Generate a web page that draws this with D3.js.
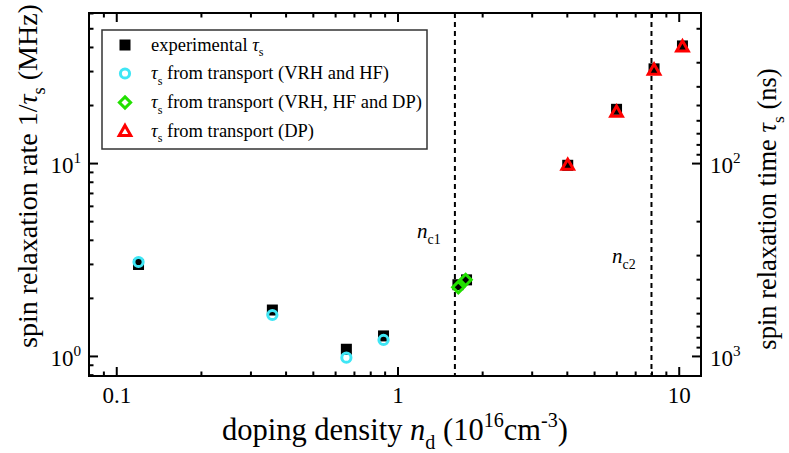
<!DOCTYPE html>
<html>
<head>
<meta charset="utf-8">
<script src="https://cdn.jsdelivr.net/npm/d3@7"></script>
<style>
  html, body { margin: 0; padding: 0; background: #fff; }
  svg { display: block; font-family: "Liberation Serif", "Times New Roman", serif; }
</style>
</head>
<body>
<svg id="chart" width="789" height="453"></svg>
<script>
// Doping density (10^16 cm^-3) and spin relaxation rate 1/tau_s (MHz)
const expDensity   = [0.12, 0.359, 0.658, 0.892, 1.64, 1.76, 4.03, 6.01, 8.17, 10.31];
const expRate      = [2.98, 1.73, 1.083, 1.27, 2.34, 2.48, 9.74, 19.0, 30.8, 40.5];

const vrhDensity   = [0.12, 0.359, 0.658, 0.892];
const vrhRate      = [3.07, 1.63, 0.98, 1.21];

const dpMixDensity = [1.645, 1.747];
const dpMixRate    = [2.27, 2.48];

const dpDensity    = [4.03, 6.01, 8.17, 10.31];
const dpRate       = [9.8, 18.5, 30.5, 40.3];

// Critical densities
const criticalDensity = [1.6, 8.0];
const criticalLabels  = ["c1", "c2"];

// Axis ranges and ticks
const xDomain = [0.08, 12];
const yDomain = [0.787, 60];
const xMajor = [0.1, 1, 10];
const xMajorLabels = ["0.1", "1", "10"];
const xMinor = [0.09, 0.2, 0.3, 0.4, 0.5, 0.6, 0.7, 0.8, 0.9, 2, 3, 4, 5, 6, 7, 8, 9];
const yMajor = [1, 10];
const yMajorExp = ["0", "1"];
const yMinor = [0.8, 0.9, 2, 3, 4, 5, 6, 7, 8, 9, 20, 30, 40, 50, 60];
const tauMajor = [100, 1000];
const tauMajorExp = ["2", "3"];
const tauMinor = [20, 30, 40, 50, 60, 70, 80, 90, 200, 300, 400, 500, 600, 700, 800, 900];

const colors = { exp: "#000000", vrh: "#3fe6f5", mix: "#22e000", dp: "#ff0000" };

const svg = d3.select("#chart");
const plot = { left: 89, right: 701, top: 13, bottom: 376 };

const x = d3.scaleLog().domain(xDomain).range([plot.left, plot.right]);
const y = d3.scaleLog().domain(yDomain).range([plot.bottom, plot.top]);
const yTau = d3.scaleLog().domain([1000 / yDomain[0], 1000 / yDomain[1]]).range([plot.bottom, plot.top]);

// Append text built from segments: {t, it, sub, sup}
function richText(sel, segs, baseSize) {
  let shift = 0;
  segs.forEach(s => {
    const ts = sel.append("tspan").text(s.t);
    if (s.it) ts.attr("font-style", "italic");
    let target = 0;
    if (s.sub) target = 0.3 * baseSize;
    if (s.sup) target = -0.42 * baseSize;
    if (s.sub || s.sup) ts.attr("font-size", (baseSize * 0.66) + "px");
    const dy = target - shift;
    if (dy !== 0) ts.attr("dy", dy);
    shift = target;
  });
  return sel;
}

// Critical density markers
const crit = svg.append("g");
criticalDensity.forEach((d, i) => {
  crit.append("line")
    .attr("x1", x(d)).attr("x2", x(d))
    .attr("y1", plot.top).attr("y2", plot.bottom)
    .attr("stroke", "#000").attr("stroke-width", 2)
    .attr("stroke-dasharray", "5,4");
});
const critLabelPos = [[417, 238], [612, 263]];
criticalLabels.forEach((lab, i) => {
  const t = crit.append("text")
    .attr("x", critLabelPos[i][0]).attr("y", critLabelPos[i][1])
    .attr("font-size", 21);
  richText(t, [{ t: "n", it: true }, { t: lab, sub: true }], 21);
});

// Axes
function styleAxis(g) {
  g.select(".domain").remove();
  g.selectAll(".tick line").attr("stroke", "#000").attr("stroke-width", 2);
}
const majorLen = 9, minorLen = 4.5;
const tickFont = 23;

// bottom
svg.append("g").attr("transform", `translate(0,${plot.bottom})`)
  .call(d3.axisBottom(x).tickValues(xMinor).tickSize(-minorLen).tickFormat(""))
  .call(styleAxis);
const bottomMajor = svg.append("g").attr("transform", `translate(0,${plot.bottom})`)
  .call(d3.axisBottom(x).tickValues(xMajor).tickSize(-majorLen).tickPadding(11)
    .tickFormat((d, i) => xMajorLabels[i]))
  .call(styleAxis);
bottomMajor.selectAll("text").attr("font-size", tickFont).attr("font-family", "Liberation Serif").attr("fill", "#000");

// top (ticks only)
svg.append("g").attr("transform", `translate(0,${plot.top})`)
  .call(d3.axisTop(x).tickValues(xMinor).tickSize(-minorLen).tickFormat(""))
  .call(styleAxis);
svg.append("g").attr("transform", `translate(0,${plot.top})`)
  .call(d3.axisTop(x).tickValues(xMajor).tickSize(-majorLen).tickFormat(""))
  .call(styleAxis);

// left: rate
svg.append("g").attr("transform", `translate(${plot.left},0)`)
  .call(d3.axisLeft(y).tickValues(yMinor).tickSize(-minorLen).tickFormat(""))
  .call(styleAxis);
const leftMajor = svg.append("g").attr("transform", `translate(${plot.left},0)`)
  .call(d3.axisLeft(y).tickValues(yMajor).tickSize(-majorLen).tickPadding(8).tickFormat(""))
  .call(styleAxis);
leftMajor.selectAll(".tick text").each(function (d, i) {
  const t = d3.select(this).attr("font-size", tickFont).attr("font-family", "Liberation Serif")
    .attr("fill", "#000").attr("dy", "0.4em");
  richText(t, [{ t: "10" }, { t: yMajorExp[i], sup: true }], tickFont);
});

// right: relaxation time
svg.append("g").attr("transform", `translate(${plot.right},0)`)
  .call(d3.axisRight(yTau).tickValues(tauMinor).tickSize(-minorLen).tickFormat(""))
  .call(styleAxis);
const rightMajor = svg.append("g").attr("transform", `translate(${plot.right},0)`)
  .call(d3.axisRight(yTau).tickValues(tauMajor).tickSize(-majorLen).tickPadding(9).tickFormat(""))
  .call(styleAxis);
rightMajor.selectAll(".tick text").each(function (d, i) {
  const t = d3.select(this).attr("font-size", tickFont).attr("font-family", "Liberation Serif")
    .attr("fill", "#000").attr("dy", "0.4em");
  richText(t, [{ t: "10" }, { t: tauMajorExp[i], sup: true }], tickFont);
});

// frame
svg.append("rect")
  .attr("x", plot.left).attr("y", plot.top)
  .attr("width", plot.right - plot.left).attr("height", plot.bottom - plot.top)
  .attr("fill", "none").attr("stroke", "#000").attr("stroke-width", 2);

// Marker shapes
const markers = {
  square: (g, cx, cy) => g.append("rect").attr("x", cx - 5.5).attr("y", cy - 5.5)
    .attr("width", 11).attr("height", 11).attr("fill", colors.exp),
  circle: (g, cx, cy) => g.append("circle").attr("cx", cx).attr("cy", cy).attr("r", 4.6)
    .attr("fill", "none").attr("stroke", colors.vrh).attr("stroke-width", 3),
  diamond: (g, cx, cy) => g.append("path")
    .attr("d", `M${cx},${cy - 5.6}L${cx + 5.6},${cy}L${cx},${cy + 5.6}L${cx - 5.6},${cy}Z`)
    .attr("fill", "none").attr("stroke", colors.mix).attr("stroke-width", 3),
  triangle: (g, cx, cy) => g.append("path")
    .attr("d", `M${cx},${cy - 5.6}L${cx + 5.8},${cy + 4.6}L${cx - 5.8},${cy + 4.6}Z`)
    .attr("fill", "none").attr("stroke", colors.dp).attr("stroke-width", 3)
    .attr("stroke-linejoin", "miter")
};

const pts = svg.append("g");
expDensity.forEach((d, i) => markers.square(pts, x(d), y(expRate[i])));
vrhDensity.forEach((d, i) => markers.circle(pts, x(d), y(vrhRate[i])));
dpMixDensity.forEach((d, i) => markers.diamond(pts, x(d), y(dpMixRate[i])));
dpDensity.forEach((d, i) => markers.triangle(pts, x(d), y(dpRate[i])));

// Legend
const legend = svg.append("g");
legend.append("rect").attr("x", 102).attr("y", 30).attr("width", 325).attr("height", 119)
  .attr("fill", "#fff").attr("stroke", "#333").attr("stroke-width", 1.5);
const legendRows = [
  { m: "square", segs: [{ t: "experimental " }, { t: "τ", it: true }, { t: "s", sub: true }] },
  { m: "circle", segs: [{ t: "τ", it: true }, { t: "s", sub: true }, { t: " from transport (VRH and HF)" }] },
  { m: "diamond", segs: [{ t: "τ", it: true }, { t: "s", sub: true }, { t: " from transport (VRH, HF and DP)" }] },
  { m: "triangle", segs: [{ t: "τ", it: true }, { t: "s", sub: true }, { t: " from transport (DP)" }] }
];
const rowY = [45, 73.5, 102.5, 131];
legendRows.forEach((r, i) => {
  markers[r.m](legend, 125, rowY[i]);
  const t = legend.append("text").attr("x", 151).attr("y", rowY[i] + 5.5).attr("font-size", 18.5);
  richText(t, r.segs, 18.5);
});

// Axis titles
const xt = svg.append("text").attr("x", (plot.left + plot.right) / 2).attr("y", 440)
  .attr("text-anchor", "middle").attr("font-size", 30.5);
richText(xt, [{ t: "doping density " }, { t: "n", it: true }, { t: "d", sub: true },
  { t: " (10" }, { t: "16", sup: true }, { t: "cm" }, { t: "-3", sup: true }, { t: ")" }], 30.5);

const ylt = svg.append("text").attr("transform", `translate(37,176) rotate(-90)`)
  .attr("text-anchor", "middle").attr("font-size", 28);
richText(ylt, [{ t: "spin relaxation rate 1/" }, { t: "τ", it: true }, { t: "s", sub: true }, { t: " (MHz)" }], 28);

const yrt = svg.append("text").attr("transform", `translate(776,209) rotate(-90)`)
  .attr("text-anchor", "middle").attr("font-size", 26.5);
richText(yrt, [{ t: "spin relaxation time " }, { t: "τ", it: true }, { t: "s", sub: true }, { t: " (ns)" }], 26.5);
</script>
</body>
</html>
